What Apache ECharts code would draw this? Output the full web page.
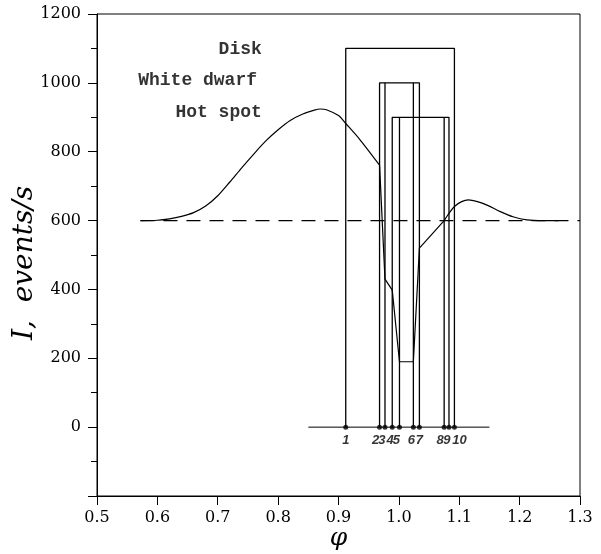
<!DOCTYPE html>
<html>
<head>
<meta charset="utf-8">
<script src="https://cdn.jsdelivr.net/npm/echarts@6/dist/echarts.min.js"></script>
<style>
  html, body { margin: 0; padding: 0; background: #fff; }
  #chart { width: 601px; height: 554px; }
</style>
</head>
<body>
<div id="chart"></div>
<script>
// Light curve of an eclipsing binary: flux vs orbital phase
const preEclipsePhase = [0.572, 0.60, 0.62, 0.64, 0.66, 0.68, 0.70, 0.72, 0.74, 0.76, 0.78, 0.80, 0.82, 0.84, 0.86, 0.87, 0.88, 0.90, 0.912, 0.936, 0.968];
const preEclipseFlux  = [600, 601, 605, 612, 623, 642, 672, 712, 754, 794, 832, 864, 891, 909, 921, 924, 922, 905, 882, 834, 761];

const eclipsePhase = [0.968, 0.977, 0.989, 1.001, 1.024, 1.034, 1.075];
const eclipseFlux  = [761, 430, 398, 190, 190, 520, 600];

const postEclipsePhase = [1.075, 1.083, 1.092, 1.104, 1.115, 1.13, 1.146, 1.168, 1.189, 1.212, 1.24, 1.265];
const postEclipseFlux  = [600, 621, 641, 655, 660, 655, 645, 626, 611, 602, 600, 600];

// out-of-eclipse mean level
const meanFlux = 600;
const meanRange = [0.572, 1.3];

// contact phases 1..10
const contactPhase = [0.912, 0.968, 0.977, 0.989, 1.001, 1.024, 1.034, 1.075, 1.083, 1.092];
const contactLabel = ['1', '2', '3', '4', '5', '6', '7', '8', '9', '10'];
const contactBase = [0.85, 1.15];

// eclipsed components: name, height of its box, contact numbers (outer pair, inner pair)
const componentName = ['Disk', 'White dwarf', 'Hot spot'];
const componentTop = [1100, 1000, 900];
const componentOuter = [[1, 10], [2, 7], [4, 9]];
const componentInner = [[], [3, 6], [5, 8]];
// where each component's name is written (right edge, data coords)
const componentNoteAt = [[0.773, 1098], [0.765, 1008], [0.773, 915]];

const xTicks = { min: 0.5, max: 1.3, step: 0.1 };
const yTicks = { min: -200, max: 1200, step: 200 };

// small horizontal nudges so crowded contact numbers stay readable
const contactLabelNudge = [0, -4, -3, -2, -3, -2, 0, -4, -2, 5];

const pairs = (xs, ys) => xs.map((x, i) => [x, ys[i]]);
const ph = n => contactPhase[n - 1];

const lineBase = { type: 'line', symbol: 'none', silent: true, animation: false };
const thin = { color: '#000', width: 1.2 };

const series = [];

series.push(Object.assign({}, lineBase, {
  data: [[meanRange[0], meanFlux], [meanRange[1], meanFlux]],
  lineStyle: { color: '#000', width: 1.2, type: [14, 9] },
  z: 1
}));

componentTop.forEach((top, k) => {
  const [a, b] = componentOuter[k];
  series.push(Object.assign({}, lineBase, {
    data: [[ph(a), 0], [ph(a), top], [ph(b), top], [ph(b), 0]],
    lineStyle: { color: '#000', width: 1.3 },
    z: 2
  }));
  componentInner[k].forEach(n => {
    series.push(Object.assign({}, lineBase, {
      data: [[ph(n), 0], [ph(n), top]],
      lineStyle: { color: '#000', width: 1.3 },
      z: 2
    }));
  });
});

series.push(Object.assign({}, lineBase, {
  data: [[contactBase[0], 0], [contactBase[1], 0]],
  lineStyle: { color: '#000', width: 1 },
  z: 2
}));

series.push(Object.assign({}, lineBase, {
  data: pairs(preEclipsePhase, preEclipseFlux),
  smooth: 0.3,
  lineStyle: thin, z: 3
}));
series.push(Object.assign({}, lineBase, {
  data: pairs(eclipsePhase, eclipseFlux),
  lineStyle: thin, z: 3
}));
series.push(Object.assign({}, lineBase, {
  data: pairs(postEclipsePhase, postEclipseFlux),
  smooth: 0.3,
  lineStyle: thin, z: 3
}));

series.push({
  type: 'scatter', silent: true, animation: false, z: 4,
  symbol: 'circle', symbolSize: 5,
  itemStyle: { color: '#000' },
  data: contactPhase.map((p, i) => ({
    value: [p, 0],
    name: contactLabel[i],
    label: { offset: [contactLabelNudge[i], 0] }
  })),
  label: {
    show: true, position: 'bottom', distance: 4,
    formatter: p => p.name,
    color: '#000', fontFamily: 'Liberation Sans', fontStyle: 'italic',
    fontWeight: 'bold', fontSize: 13
  }
});

series.push({
  type: 'scatter', silent: true, animation: false, z: 4,
  symbolSize: 0,
  data: componentNoteAt.map((c, i) => ({ value: c, name: componentName[i] })),
  label: {
    show: true, position: 'left', distance: 0,
    formatter: p => p.name,
    color: '#000', fontFamily: 'Liberation Mono', fontWeight: 'bold', fontSize: 18
  }
});

const tickFont = { color: '#000', fontFamily: 'DejaVu Serif', fontSize: 16 };

const chart = echarts.init(document.getElementById('chart'), null, { renderer: 'canvas' });
chart.setOption({
  backgroundColor: '#fff',
  animation: false,
  grid: {
    left: 97, right: 21, top: 14, bottom: 58,
    outerBoundsMode: 'none',
    show: true, borderColor: '#000', borderWidth: 1, backgroundColor: 'transparent'
  },
  xAxis: {
    type: 'value', min: xTicks.min, max: xTicks.max, interval: xTicks.step,
    name: 'φ', nameLocation: 'middle', nameGap: 30, nameMoveOverlap: false,
    nameTextStyle: { color: '#000', fontFamily: 'DejaVu Serif', fontStyle: 'italic', fontSize: 25 },
    axisLine: { show: true, onZero: false, lineStyle: { color: '#000', width: 1 } },
    axisTick: { show: true, inside: false, length: 9, lineStyle: { color: '#000' } },
    axisLabel: Object.assign({ margin: 14, formatter: v => v.toFixed(1) }, tickFont),
    splitLine: { show: false }
  },
  yAxis: {
    type: 'value', min: yTicks.min, max: yTicks.max, interval: yTicks.step,
    name: 'I,  events/s', nameLocation: 'middle', nameGap: 58, nameRotate: 90, nameMoveOverlap: false,
    nameTextStyle: { color: '#000', fontFamily: 'DejaVu Serif', fontStyle: 'italic', fontSize: 28, padding: [0, 16, 0, 0] },
    axisLine: { show: true, onZero: false, lineStyle: { color: '#000', width: 1 } },
    axisTick: { show: true, inside: false, length: 9, lineStyle: { color: '#000' } },
    minorTick: { show: true, splitNumber: 2, length: 6, lineStyle: { color: '#000' } },
    axisLabel: Object.assign({ margin: 16, formatter: v => (v === yTicks.min ? '' : String(v)) }, tickFont),
    splitLine: { show: false }
  },
  series: series
});
</script>
</body>
</html>
